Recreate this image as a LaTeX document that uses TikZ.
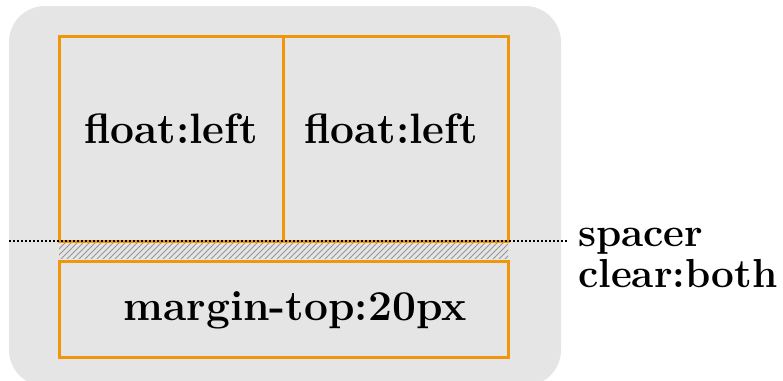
\documentclass[tikz,border=0pt]{standalone}
\usepackage{fontspec}
\usetikzlibrary{calc}
\definecolor{bggray}{RGB}{229,229,229}
\definecolor{boxorange}{RGB}{240,150,10}
\definecolor{hatchgray}{RGB}{150,150,150}
\begin{document}
\begin{tikzpicture}[x=1pt,y=-1pt,
  box/.style={draw=boxorange,line width=3pt,minimum width=#1,inner sep=0pt},
  lbl/.style={font=\fontsize{42.5}{50}\selectfont\bfseries,text=black,inner sep=0pt,anchor=base},
  side/.style={font=\fontsize{40.5}{48}\selectfont\bfseries,text=black,inner sep=0pt,anchor=base west},
  hatch/.style={draw=hatchgray,line width=0.8pt},
  spacerline/.style={draw=black,line width=2pt,dash pattern=on 2pt off 2pt}]
\useasboundingbox (0,0) rectangle (783,380);
\begin{scope}
\clip (0,0) rectangle (783,380);
\fill[bggray,rounded corners=36pt] (9,6) rectangle (561,386);
\end{scope}
% hatched spacer strip
\begin{scope}
\clip (59,242) rectangle (508,258);
\foreach \i in {0,6,...,480}{
  \draw[hatch] (40+\i,262) -- (64+\i,238);
}
\end{scope}
% boxes
\node[box=224pt,minimum height=205pt] (lbox) at (171,138.5) {};
\node[box=225pt,minimum height=205pt] (rbox) at (395.5,138.5) {};
\node[box=449pt,minimum height=96pt] (bbox) at (283.5,309) {};
% labels
\node[lbl] (t1) at (171,143) {float:left};
\node[lbl] (t2) at (391,143) {float:left};
\node[lbl] (t3) at (295,320) {margin-top:20px};
\node[side] (spacer) at (578,246) {spacer};
\node[side] (clear) at (578,287) {clear:both};
% dotted spacer line
\coordinate (dl) at (9,241);
\coordinate (dr) at (567,241);
\draw[spacerline] (dl) -- (dr);
\end{tikzpicture}
\end{document}
